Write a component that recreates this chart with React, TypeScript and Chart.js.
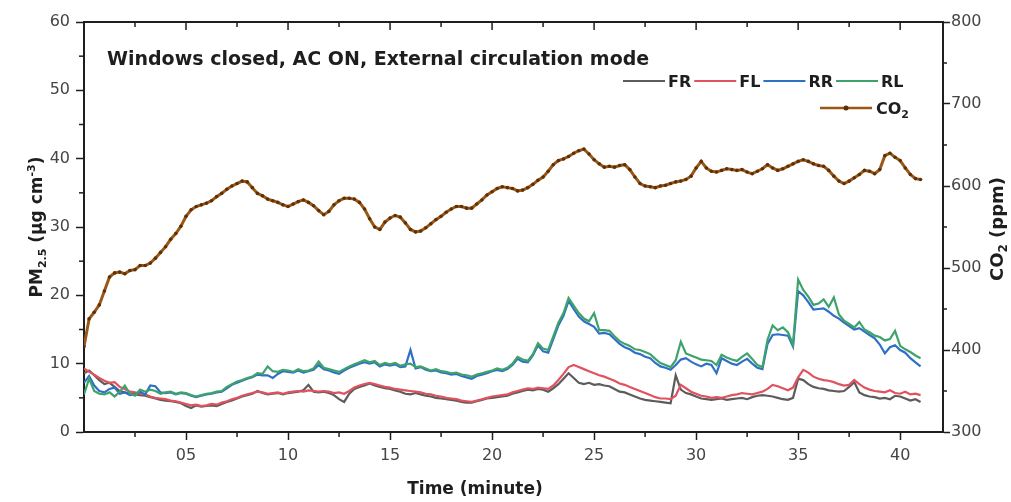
import { useEffect, useRef } from 'react';
import { Chart, registerables } from 'chart.js';

Chart.register(...registerables);

// Samples every 0.25 min, from 0 to 41 min.
const STEP_MIN = 0.25;

const co2Ppm = [
  404, 438, 446, 455, 472, 489, 494, 495,
  493, 497, 498, 503, 503, 506, 512, 519,
  526, 535, 542, 551, 563, 571, 575, 577,
  579, 582, 587, 591, 596, 600, 603, 606,
  605, 598, 591, 588, 584, 582, 580, 577,
  575, 578, 581, 583, 580, 576, 570, 565,
  569, 577, 582, 585, 585, 584, 580, 572,
  560, 550, 547, 556, 561, 564, 562, 555,
  547, 544, 545, 549, 554, 559, 563, 568,
  572, 575, 575, 573, 573, 578, 583, 589,
  593, 597, 599, 598, 597, 594, 595, 598,
  602, 607, 611, 618, 626, 631, 633, 636,
  640, 643, 645, 639, 632, 627, 623, 624,
  623, 625, 626, 620, 611, 603, 600, 599,
  598, 600, 601, 603, 605, 606, 608, 612,
  622, 630, 622, 618, 617, 619, 621, 620,
  619, 620, 617, 615, 618, 621, 626, 622,
  619, 621, 624, 627, 630, 632, 630, 627,
  625, 624, 619, 612, 606, 603, 606, 610,
  614, 619, 618, 615, 620, 637, 640, 635,
  631, 622, 614, 609, 608,
];

const pmRL = [
  5.5, 7.8, 6.0, 5.6, 5.5, 5.8, 5.2, 5.9,
  6.8, 5.6, 5.3, 6.2, 5.9, 6.2, 6.0, 5.6,
  5.8, 5.9, 5.6, 5.8, 5.7, 5.4, 5.2, 5.4,
  5.6, 5.7, 5.9, 6.0, 6.6, 7.0, 7.4, 7.6,
  7.9, 8.1, 8.6, 8.5, 9.6, 8.9, 8.8, 9.1,
  9.0, 8.8, 9.2, 8.9, 9.0, 9.3, 10.3, 9.4,
  9.2, 9.0, 8.8, 9.2, 9.6, 9.9, 10.2, 10.5,
  10.2, 10.4, 9.8, 10.1, 9.9, 10.1, 9.7, 9.9,
  10.0, 9.5, 9.6, 9.3, 9.0, 9.2, 8.9, 8.8,
  8.6, 8.7, 8.4, 8.3, 8.1, 8.4, 8.6, 8.8,
  9.0, 9.3, 9.1, 9.4, 10.0, 11.0, 10.6, 10.4,
  11.4, 13.0, 12.2, 12.0, 14.0, 16.0, 17.4, 19.6,
  18.5, 17.4, 16.6, 16.2, 17.4, 14.9, 14.9, 14.8,
  14.0, 13.3, 12.9, 12.6, 12.1, 12.0, 11.7, 11.4,
  10.7, 10.1, 9.8, 9.5, 10.5, 13.2, 11.5, 11.2,
  10.9, 10.6, 10.5, 10.4, 9.8, 11.3, 10.9, 10.6,
  10.4, 11.0, 11.5, 10.7, 9.8, 9.5, 13.5, 15.6,
  14.9, 15.3, 14.6, 12.8, 22.3, 20.8, 19.8, 18.6,
  18.8, 19.4, 18.3, 19.7, 17.2, 16.3, 15.8, 15.3,
  16.1, 15.0, 14.6, 14.1, 13.9, 13.4, 13.6, 14.8,
  12.6, 12.1, 11.7, 11.2, 10.8,
];

const pmRR = [
  7.2, 8.2, 6.8, 6.0, 5.8, 6.3, 6.5, 5.6,
  5.8, 5.4, 5.5, 5.9, 5.5, 6.8, 6.7, 5.8,
  5.7, 5.8, 5.5, 5.7, 5.6, 5.3, 5.1, 5.3,
  5.5, 5.6, 5.8, 5.9, 6.4, 6.9, 7.2, 7.5,
  7.8, 8.0, 8.4, 8.3, 8.3, 7.9, 8.5, 8.9,
  8.8, 8.7, 9.0, 8.7, 8.9, 9.1, 9.8, 9.2,
  9.0, 8.7, 8.5, 9.0, 9.4, 9.7, 10.0, 10.2,
  10.0, 10.2, 9.6, 9.9, 9.7, 9.9, 9.5, 9.6,
  12.0, 9.3, 9.5, 9.1, 8.9, 9.0, 8.7, 8.6,
  8.4, 8.5, 8.2, 8.0, 7.8, 8.2, 8.4, 8.6,
  8.9, 9.1, 8.9, 9.2, 9.8, 10.7, 10.3, 10.2,
  11.2, 12.7, 11.8, 11.6, 13.6, 15.6, 17.0, 19.2,
  18.0, 16.9, 16.2, 15.8, 15.4, 14.4, 14.5, 14.3,
  13.6, 12.9, 12.4, 12.1, 11.6, 11.4, 11.0, 10.8,
  10.1, 9.6, 9.4, 9.1, 9.8, 10.6, 10.8, 10.3,
  9.9, 9.6, 10.0, 9.8, 8.6, 10.8, 10.4, 10.0,
  9.8, 10.3, 10.7, 10.0, 9.4, 9.2, 12.9, 14.2,
  14.3, 14.2, 14.1, 12.5, 20.6, 20.0, 19.0, 17.9,
  18.0, 18.1, 17.6, 17.0, 16.6, 16.0, 15.5, 15.0,
  15.2, 14.7, 14.2, 13.7, 12.8, 11.5, 12.4, 12.7,
  12.0, 11.6, 10.8, 10.2, 9.6,
];

const pmFL = [
  9.3, 8.8, 8.4, 7.9, 7.5, 7.2, 7.3, 6.6,
  6.3, 5.9, 5.8, 5.6, 5.5, 5.2, 5.0, 4.9,
  4.8, 4.6, 4.5, 4.3, 4.1, 3.9, 4.0, 3.8,
  3.9, 4.1, 4.0, 4.3, 4.5, 4.8, 5.0, 5.3,
  5.5, 5.7, 5.9, 5.8, 5.6, 5.7, 5.8, 5.6,
  5.8, 5.9, 6.0, 5.9, 6.1, 6.0, 5.9, 6.0,
  5.9, 5.7, 5.8, 5.6, 6.0, 6.5, 6.8, 7.0,
  7.2, 7.0, 6.8, 6.6, 6.5, 6.3, 6.2, 6.1,
  6.0, 5.9, 5.8, 5.6, 5.5, 5.3, 5.2, 5.0,
  4.9, 4.8, 4.6, 4.5, 4.4, 4.6, 4.8, 5.0,
  5.2, 5.3, 5.4, 5.5, 5.8, 6.0, 6.2, 6.4,
  6.3, 6.5, 6.4, 6.3, 6.8, 7.6, 8.5, 9.5,
  9.8, 9.5, 9.2, 8.9, 8.6, 8.3, 8.1, 7.8,
  7.5, 7.1, 6.9, 6.6, 6.3, 6.0, 5.7, 5.4,
  5.1, 4.9, 4.9, 4.8, 5.3, 6.9, 6.4, 5.9,
  5.6, 5.3, 5.2, 5.0, 5.1, 5.0, 5.2, 5.4,
  5.5, 5.7, 5.6, 5.5, 5.7, 5.9, 6.3, 6.9,
  6.7, 6.4, 6.1, 6.5, 8.0, 9.1, 8.7, 8.1,
  7.8, 7.6, 7.5, 7.3, 7.0, 6.8, 6.9, 7.6,
  7.0, 6.5, 6.2, 6.0, 5.9, 5.8, 6.1, 5.7,
  5.6, 5.9, 5.5, 5.6, 5.4,
];

const pmFR = [
  8.6, 9.0, 8.3, 7.6, 7.0, 7.2, 6.6, 6.0,
  5.8, 5.6, 5.5, 5.4, 5.3, 5.1, 4.9, 4.7,
  4.6, 4.5, 4.4, 4.2, 3.8, 3.5, 3.9, 3.7,
  3.8, 3.9, 3.8, 4.1, 4.4, 4.6, 4.9, 5.2,
  5.4, 5.6, 6.0, 5.7, 5.5, 5.6, 5.7, 5.5,
  5.7, 5.8, 5.9, 6.1, 6.9, 5.9, 5.8, 5.9,
  5.7, 5.4, 4.8, 4.4, 5.6, 6.3, 6.6, 6.8,
  7.1, 6.8, 6.6, 6.4, 6.3, 6.1, 5.9, 5.6,
  5.5, 5.7, 5.5, 5.3, 5.2, 5.0, 4.9, 4.8,
  4.7, 4.6, 4.4, 4.3, 4.3, 4.5, 4.7, 4.9,
  5.0, 5.1, 5.2, 5.3, 5.6, 5.8, 6.0, 6.2,
  6.1, 6.3, 6.2, 5.9, 6.4, 7.0, 7.8, 8.6,
  7.9, 7.2, 7.0, 7.2, 6.9, 7.0, 6.8, 6.7,
  6.3, 5.9, 5.8, 5.5, 5.2, 4.9, 4.7, 4.6,
  4.5, 4.4, 4.3, 4.2, 8.3, 6.2, 5.7, 5.5,
  5.2, 4.9, 4.8, 4.7, 4.8, 4.9, 4.7, 4.8,
  4.9, 5.0, 4.8, 5.1, 5.3, 5.4, 5.3, 5.2,
  5.0, 4.8, 4.7, 5.0, 7.8, 7.6, 7.0, 6.6,
  6.4, 6.3, 6.1, 6.0, 5.9, 6.0, 6.6, 7.3,
  5.8, 5.4, 5.2, 5.1, 4.9, 5.0, 4.8, 5.3,
  5.2, 4.9, 4.6, 4.8, 4.4,
];

const timeMin = co2Ppm.map((_, i) => i * STEP_MIN);

const xTickValues = [5, 10, 15, 20, 25, 30, 35, 40];
const pmTickValues = [0, 10, 20, 30, 40, 50, 60];
const co2TickValues = [300, 400, 500, 600, 700, 800];

const chartTitle = 'Windows closed, AC ON, External circulation mode';

const FONT = '"DejaVu Sans", "Liberation Sans", sans-serif';
const INK = '#1e1e1e';
const TICK_TEXT = '#454545';

const pmSeries = [
  { name: 'FR', values: pmFR, color: '#5c5c5c' },
  { name: 'FL', values: pmFL, color: '#e0525e' },
  { name: 'RR', values: pmRR, color: '#2f70c6' },
  { name: 'RL', values: pmRL, color: '#3ea36b' },
];
const CO2_LINE = '#9a5814';
const CO2_DOT = '#5e300a';

type Seg = { t: string; s: number; dy?: number };

function richWidth(ctx: CanvasRenderingContext2D, segs: Seg[]) {
  let w = 0;
  for (const seg of segs) {
    ctx.font = `bold ${seg.s}px ${FONT}`;
    w += ctx.measureText(seg.t).width;
  }
  return w;
}

function drawRich(ctx: CanvasRenderingContext2D, x: number, y: number, segs: Seg[], center: boolean) {
  let cx = center ? x - richWidth(ctx, segs) / 2 : x;
  for (const seg of segs) {
    ctx.font = `bold ${seg.s}px ${FONT}`;
    ctx.fillText(seg.t, cx, y + (seg.dy || 0));
    cx += ctx.measureText(seg.t).width;
  }
}

// Frame, minor ticks, titles and legend drawn on top of the chart.
const decorPlugin = {
  id: 'decor',
  afterDraw(chart: any) {
    const { ctx, chartArea: a } = chart;
    const sx = chart.scales.x;
    const sy = chart.scales.y;
    const sy1 = chart.scales.y1;
    ctx.save();

    ctx.strokeStyle = INK;
    ctx.lineWidth = 2;
    ctx.beginPath();
    ctx.moveTo(a.left - 1, a.top);
    ctx.lineTo(a.right + 1, a.top);
    ctx.stroke();

    const seg = (x0: number, y0: number, x1: number, y1: number) => {
      ctx.beginPath();
      ctx.moveTo(x0, y0);
      ctx.lineTo(x1, y1);
      ctx.stroke();
    };
    ctx.lineWidth = 1.5;
    // minor ticks on the time axis, plus the inward ticks of the top edge
    for (let v = 2.5; v < sx.max; v += 5) {
      const px = sx.getPixelForValue(v);
      seg(px, a.bottom, px, a.bottom + 5);
      seg(px, a.top, px, a.top + 5);
    }
    for (const v of xTickValues) {
      const px = sx.getPixelForValue(v);
      seg(px, a.top, px, a.top + 8);
    }
    for (let i = 0; i < pmTickValues.length - 1; i++) {
      const py = sy.getPixelForValue((pmTickValues[i] + pmTickValues[i + 1]) / 2);
      seg(a.left - 5, py, a.left, py);
    }
    for (let i = 0; i < co2TickValues.length - 1; i++) {
      const py = sy1.getPixelForValue((co2TickValues[i] + co2TickValues[i + 1]) / 2);
      seg(a.right, py, a.right + 4, py);
    }

    ctx.fillStyle = INK;
    ctx.textAlign = 'left';
    ctx.textBaseline = 'alphabetic';

    // chart heading inside the plot
    ctx.font = `bold 19px ${FONT}`;
    ctx.fillText(chartTitle, a.left + 23, 64.5);

    // axis titles
    drawRich(ctx, 475, 494, [{ t: 'Time (minute)', s: 17 }], true);

    ctx.save();
    ctx.translate(42, (a.top + a.bottom) / 2);
    ctx.rotate(-Math.PI / 2);
    drawRich(ctx, 0, 0, [
      { t: 'PM', s: 17 },
      { t: '2.5', s: 11, dy: 4 },
      { t: ' (\u00b5g cm', s: 17 },
      { t: '-3', s: 11, dy: -7 },
      { t: ')', s: 17 },
    ], true);
    ctx.restore();

    ctx.save();
    ctx.translate(1003, (a.top + a.bottom) / 2 + 2);
    ctx.rotate(-Math.PI / 2);
    drawRich(ctx, 0, 0, [
      { t: 'CO', s: 18 },
      { t: '2', s: 12, dy: 4 },
      { t: ' (ppm)', s: 18 },
    ], true);
    ctx.restore();

    // legend
    const lineLen = 42;
    let lx = 623;
    const rowY = 81;
    ctx.lineWidth = 2;
    for (const s of pmSeries) {
      ctx.strokeStyle = s.color;
      seg(lx, rowY, lx + lineLen, rowY);
      ctx.fillStyle = INK;
      ctx.font = `bold 16px ${FONT}`;
      const tx = lx + lineLen + 3;
      ctx.fillText(s.name, tx, rowY + 6);
      lx = tx + ctx.measureText(s.name).width + 3;
    }
    const row2Y = 108;
    ctx.strokeStyle = CO2_LINE;
    ctx.lineWidth = 2.5;
    seg(820, row2Y, 872, row2Y);
    ctx.fillStyle = CO2_DOT;
    ctx.beginPath();
    ctx.arc(846, row2Y, 2.5, 0, Math.PI * 2);
    ctx.fill();
    ctx.fillStyle = INK;
    drawRich(ctx, 876, row2Y + 6, [
      { t: 'CO', s: 16 },
      { t: '2', s: 11, dy: 4 },
    ], false);

    ctx.restore();
  },
};

export default function App() {
  const canvasRef = useRef<HTMLCanvasElement | null>(null);

  useEffect(() => {
    const canvas = canvasRef.current;
    if (!canvas) return;

    const toPoints = (vals: number[]) => vals.map((v, i) => ({ x: timeMin[i], y: v }));

    const tickFont = { family: FONT, size: 16 };
    const tickGrid = {
      display: true,
      drawOnChartArea: false,
      drawTicks: true,
      tickLength: 8,
      tickWidth: 1.5,
      tickColor: INK,
    };
    const border = { display: true, color: INK, width: 2 };

    const datasets: any[] = pmSeries.map((s, i) => ({
      label: s.name,
      data: toPoints(s.values),
      yAxisID: 'y',
      borderColor: s.color,
      backgroundColor: s.color,
      borderWidth: 2.2,
      pointRadius: 0,
      tension: 0,
      order: 5 - i,
    }));
    datasets.push({
      label: 'CO2',
      data: toPoints(co2Ppm),
      yAxisID: 'y1',
      borderColor: CO2_LINE,
      backgroundColor: CO2_DOT,
      borderWidth: 3,
      pointRadius: 1.8,
      pointBorderWidth: 0,
      pointBackgroundColor: CO2_DOT,
      tension: 0,
      order: 0,
    });

    const chart = new Chart(canvas, {
      type: 'line',
      data: { datasets },
      options: {
        responsive: false,
        animation: false,
        devicePixelRatio: 1,
        layout: { padding: { top: 22, left: 0, right: 0, bottom: 0 } },
        plugins: {
          legend: { display: false },
          tooltip: { enabled: false },
        },
        scales: {
          x: {
            type: 'linear',
            min: 0,
            max: 42.1,
            afterBuildTicks: (s: any) => {
              s.ticks = xTickValues.map((v) => ({ value: v }));
            },
            afterFit: (s: any) => {
              s.height = 70;
            },
            ticks: {
              callback: (v: any) => String(v).padStart(2, '0'),
              font: tickFont,
              color: TICK_TEXT,
              padding: 6,
              maxRotation: 0,
              autoSkip: false,
            },
            grid: tickGrid,
            border,
          },
          y: {
            type: 'linear',
            position: 'left',
            min: 0,
            max: 60,
            afterBuildTicks: (s: any) => {
              s.ticks = pmTickValues.map((v) => ({ value: v }));
            },
            afterFit: (s: any) => {
              s.width = 84;
            },
            ticks: { font: tickFont, color: TICK_TEXT, padding: 6 },
            grid: tickGrid,
            border,
          },
          y1: {
            type: 'linear',
            position: 'right',
            min: 300,
            max: 800,
            afterBuildTicks: (s: any) => {
              s.ticks = co2TickValues.map((v) => ({ value: v }));
            },
            afterFit: (s: any) => {
              s.width = 68;
            },
            ticks: { font: tickFont, color: TICK_TEXT, padding: 1 },
            grid: { ...tickGrid, tickLength: 7 },
            border,
          },
        },
      },
      plugins: [decorPlugin],
    } as any);

    return () => chart.destroy();
  }, []);

  return (
    <div style={{ position: 'fixed', left: 0, top: 0, width: 1011, height: 502, background: '#ffffff' }}>
      <canvas ref={canvasRef} width={1011} height={502} style={{ display: 'block' }} />
    </div>
  );
}
